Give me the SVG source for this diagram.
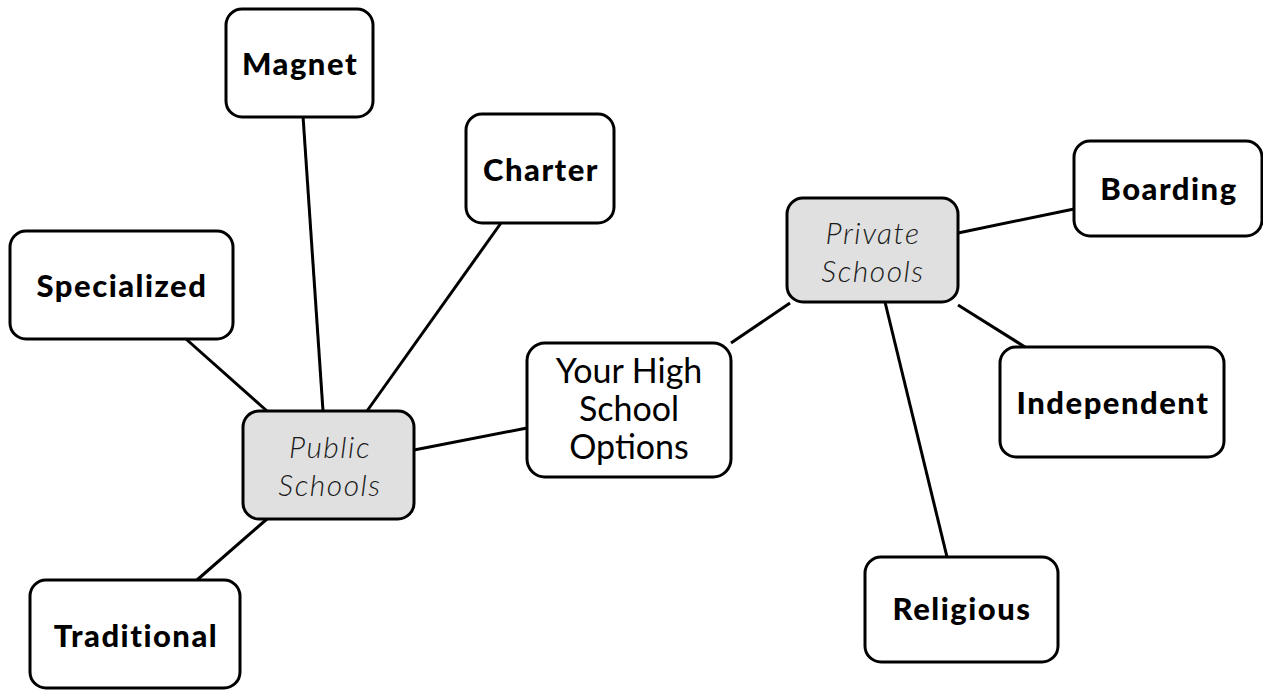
<svg xmlns="http://www.w3.org/2000/svg" width="1263" height="690" viewBox="0 0 1263 690">
<style>
.box{fill:#fff;stroke:#000;stroke-width:3}
.hub{fill:#e0e0e0;stroke:#000;stroke-width:3}
.ln{stroke:#000;stroke-width:3;fill:none}
.b{font-family:Lato,"Liberation Sans",sans-serif;font-weight:900;font-size:31px;letter-spacing:1.5px;text-anchor:middle;fill:#000}
.i{font-family:Lato,"Liberation Sans",sans-serif;font-style:italic;font-weight:300;font-size:30px;letter-spacing:1.5px;text-anchor:middle;fill:#1a1a1a}
.r{font-family:Lato,"Liberation Sans",sans-serif;font-size:34px;text-anchor:middle;fill:#000}
</style>
<rect width="1263" height="690" fill="#fff"/>
<g id="connectors">
<line class="ln" x1="303" y1="116" x2="323" y2="411"/>
<line class="ln" x1="501" y1="223" x2="367" y2="411"/>
<line class="ln" x1="186" y1="339" x2="267" y2="411"/>
<line class="ln" x1="197" y1="580" x2="267" y2="519"/>
<line class="ln" x1="414" y1="450" x2="527" y2="428"/>
<line class="ln" x1="731" y1="343" x2="790" y2="303"/>
<line class="ln" x1="958" y1="233" x2="1074" y2="209"/>
<line class="ln" x1="958" y1="305" x2="1025" y2="347"/>
<line class="ln" x1="885" y1="302" x2="947" y2="557"/>
</g>
<g id="magnet"><rect class="box" x="226" y="9" width="147" height="108" rx="16"/><text class="b" x="300" y="75">Magnet</text></g>
<g id="charter"><rect class="box" x="466" y="114" width="148" height="109" rx="16"/><text class="b" x="541" y="181">Charter</text></g>
<g id="specialized"><rect class="box" x="10" y="231" width="223" height="108" rx="16"/><text class="b" x="122" y="297">Specialized</text></g>
<g id="public"><rect class="hub" x="243" y="411" width="171" height="108" rx="16"/><text class="i" x="330" y="458">Public</text><text class="i" x="330" y="496">Schools</text></g>
<g id="options"><rect class="box" x="527" y="343" width="204" height="134" rx="18"/><text class="r" x="629" y="383">Your High</text><text class="r" x="629" y="421">School</text><text class="r" x="629" y="459">Options</text></g>
<g id="private"><rect class="hub" x="787" y="198" width="171" height="104" rx="16"/><text class="i" x="873" y="244">Private</text><text class="i" x="873" y="282">Schools</text></g>
<g id="boarding"><rect class="box" x="1074" y="141" width="188" height="95" rx="16"/><text class="b" x="1169" y="200">Boarding</text></g>
<g id="independent"><rect class="box" x="1000" y="347" width="224" height="110" rx="16"/><text class="b" x="1113" y="414">Independent</text></g>
<g id="religious"><rect class="box" x="865" y="557" width="193" height="105" rx="16"/><text class="b" x="962" y="620">Religious</text></g>
<g id="traditional"><rect class="box" x="30" y="580" width="210" height="108" rx="16"/><text class="b" x="136" y="647">Traditional</text></g>
</svg>
